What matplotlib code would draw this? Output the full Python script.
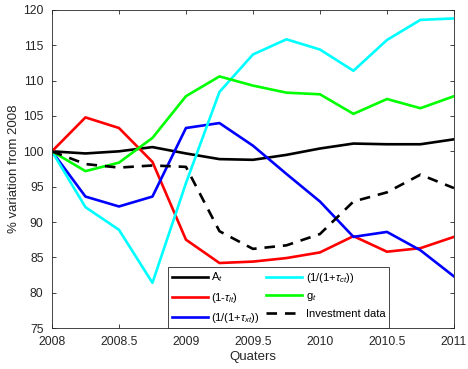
import matplotlib
matplotlib.use("Agg")
import matplotlib.pyplot as plt
import numpy as np

plt.rcParams['font.family'] = ['Liberation Sans', 'DejaVu Sans']
plt.rcParams['mathtext.fontset'] = 'custom'
plt.rcParams['mathtext.rm'] = 'Liberation Sans'
plt.rcParams['mathtext.it'] = 'Liberation Sans:italic'

quarters = [2008, 2008.25, 2008.5, 2008.75, 2009, 2009.25, 2009.5, 2009.75,
            2010, 2010.25, 2010.5, 2010.75, 2011]
A_t = [100, 99.7, 100.0, 100.6, 99.7, 98.9, 98.8, 99.5, 100.4, 101.1, 101.0, 101.0, 101.7]
tau_lt = [100, 104.8, 103.3, 98.5, 87.5, 84.2, 84.4, 84.9, 85.7, 88.0, 85.8, 86.3, 87.9]
tau_xt = [100, 93.6, 92.2, 93.6, 103.3, 104.0, 100.8, 96.8, 92.9, 87.9, 88.6, 86.0, 82.3]
tau_ct = [100, 92.1, 88.9, 81.4, 95.5, 108.4, 113.7, 115.85, 114.4, 111.4, 115.75, 118.6, 118.8]
g_t = [100, 97.2, 98.4, 101.9, 107.8, 110.6, 109.3, 108.3, 108.07, 105.3, 107.4, 106.1, 107.8]
invest = [100, 98.2, 97.7, 98.0, 97.8, 88.7, 86.2, 86.7, 88.3, 92.9, 94.2, 96.7, 94.8]

labels = [r'A$_t$', r'(1-$\tau_{lt}$)', r'(1/(1+$\tau_{xt}$))',
          r'(1/(1+$\tau_{ct}$))', r'g$_t$', 'Investment data']

fig = plt.figure(figsize=(4.68, 3.69), dpi=100)
ax = fig.add_axes([0.111, 0.111, 0.859, 0.862])

lw = 1.9
ax.plot(quarters, A_t, color='black', lw=lw, label=labels[0])
ax.plot(quarters, tau_lt, color='#ff0000', lw=lw, label=labels[1])
ax.plot(quarters, tau_xt, color='#0000ff', lw=lw, label=labels[2])
ax.plot(quarters, tau_ct, color='#00ffff', lw=lw, label=labels[3])
ax.plot(quarters, g_t, color='#00ff00', lw=lw, label=labels[4])
ax.plot(quarters, invest, color='black', lw=lw, ls=(0, (4, 3)), label=labels[5])

ax.set_xlim(2008, 2011)
ax.set_ylim(75, 120)
ax.set_xticks([2008, 2008.5, 2009, 2009.5, 2010, 2010.5, 2011])
ax.set_xticklabels(['2008', '2008.5', '2009', '2009.5', '2010', '2010.5', '2011'])
ax.set_yticks(np.arange(75, 121, 5))
ax.tick_params(direction='in', top=True, right=True, labelsize=8.7, length=3,
               color='#262626', labelcolor='#262626', width=0.6)
ax.tick_params(axis='x', pad=6)
ax.tick_params(axis='y', pad=6)
for s in ax.spines.values():
    s.set_color('#262626')
    s.set_linewidth(0.6)

ax.set_xlabel('Quaters', fontsize=9.5, color='#262626', labelpad=2)
ax.set_ylabel('% variation from 2008', fontsize=9.5, color='#262626', labelpad=2)

leg = ax.legend(ncol=2, loc='lower left', fontsize=8, frameon=True, fancybox=False,
                edgecolor='#262626', framealpha=1, borderpad=0.3, labelspacing=0.55,
                handlelength=3.25, handletextpad=0.3, columnspacing=0.6,
                borderaxespad=0.0, bbox_to_anchor=((168.3 - 52) / 402, 0.0))
leg.get_frame().set_linewidth(0.6)

fig.savefig('out.png', dpi=100)
